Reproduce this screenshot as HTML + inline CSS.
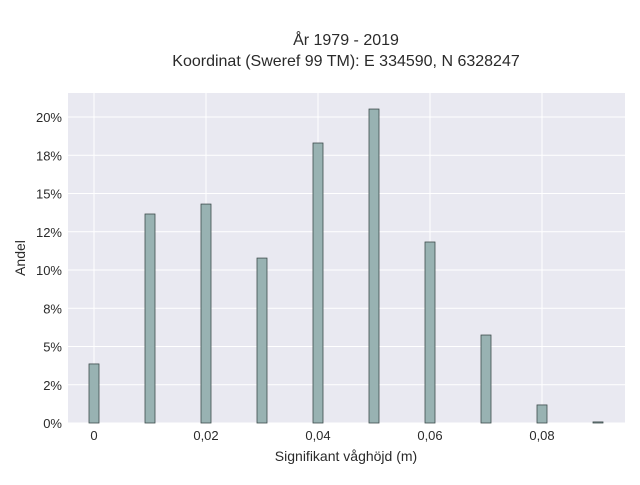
<!DOCTYPE html>
<html><head><meta charset="utf-8"><style>
body{margin:0;background:#fff;font-family:"Liberation Sans",sans-serif;}
svg text{font-family:"Liberation Sans",sans-serif;fill:#2a2a2a;}
</style></head><body>
<svg id="chart" width="640" height="480">
<text x="346" y="45" text-anchor="middle" font-size="16">År 1979 - 2019</text>
<text x="346" y="66" text-anchor="middle" font-size="16">Koordinat (Sweref 99 TM): E 334590, N 6328247</text>
<rect x="68" y="93" width="557" height="330" fill="#e9e9f1"/>
<g id="grid"></g><g id="bars"></g><g id="axes"></g>
<text x="346" y="461" text-anchor="middle" font-size="14">Signifikant våghöjd (m)</text>
<text x="25" y="258" text-anchor="middle" font-size="14" transform="rotate(-90 25 258)">Andel</text>
</svg>
<script>
const categories=[0,0.01,0.02,0.03,0.04,0.05,0.06,0.07,0.08,0.09];
const shares=[3.86,13.66,14.31,10.78,18.3,20.52,11.83,5.75,1.18,0.07];
const yTicks=[0,2.5,5,7.5,10,12.5,15,17.5,20];
const yTickLabels=["0%","2%","5%","8%","10%","12%","15%","18%","20%"];
const xTicks=[0,0.02,0.04,0.06,0.08];
const xTickLabels=["0","0,02","0,04","0,06","0,08"];
const ns="http://www.w3.org/2000/svg";
const X=v=>94+(v/0.01)*56;
const Y=v=>423-v*15.3;
function mk(t,a,p){const e=document.createElementNS(ns,t);for(const k in a)e.setAttribute(k,a[k]);p.appendChild(e);return e;}
const g=document.getElementById('grid'),b=document.getElementById('bars'),ax=document.getElementById('axes');
yTicks.forEach((v,i)=>{
 const l=mk('line',{x1:68,x2:625,y1:Y(v),y2:Y(v),stroke:'#fff','stroke-width':1},g);
 
 
 const t=mk('text',{x:62,y:Y(v)+5,'text-anchor':'end','font-size':13},ax);
 t.textContent=yTickLabels[i];
 
 
});
xTicks.forEach((v,i)=>{
 const l=mk('line',{x1:X(v),x2:X(v),y1:93,y2:423,stroke:'#fff','stroke-width':1},g);
 
 
 const t=mk('text',{x:X(v),y:440,'text-anchor':'middle','font-size':13},ax);
 t.textContent=xTickLabels[i];
 
 
});
categories.forEach((c,i)=>{
 const r=mk('rect',{x:X(c)-5,y:Y(shares[i]),width:10,height:Math.max(0.5,423-Y(shares[i])),fill:'#98b2b2',stroke:'#3d4b4b','stroke-width':0.8},b);
 
 
});
</script>
</body></html>
